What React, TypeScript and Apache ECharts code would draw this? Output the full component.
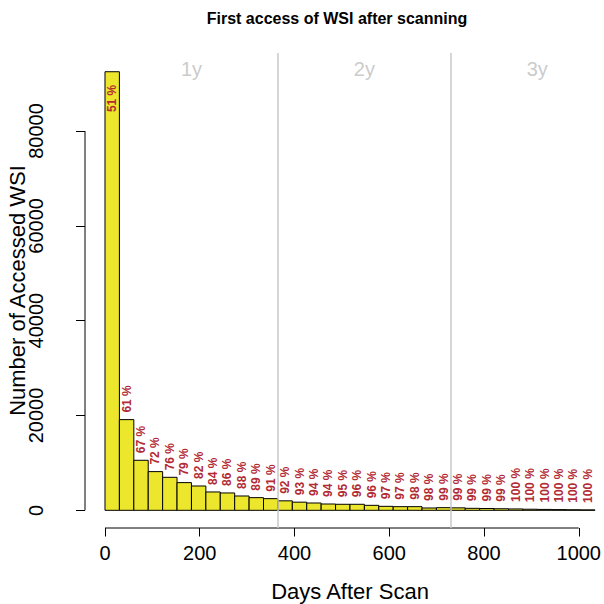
import React, { useEffect, useRef } from "react";
import * as echarts from "echarts";

// ---- data ----
const BIN_DAYS = 365 / 12;
const counts = [
  92500, 19130, 10550, 8160, 6960, 5840, 5130, 3870, 3660, 3020, 2670, 2460,
  2000, 1720, 1540, 1330, 1270, 1270, 1050, 840, 770, 770, 490, 560,
  520, 420, 380, 330, 290, 230, 190, 150, 120, 90,
];
const pctLabels = [
  "51 %", "61 %", "67 %", "72 %", "76 %", "79 %", "82 %", "84 %", "86 %", "88 %", "89 %", "91 %",
  "92 %", "93 %", "94 %", "94 %", "95 %", "96 %", "96 %", "97 %", "97 %", "98 %", "98 %", "99 %",
  "99 %", "99 %", "99 %", "99 %", "100 %", "100 %", "100 %", "100 %", "100 %", "100 %",
];
const xTicks = [0, 200, 400, 600, 800, 1000];
const yTicks = [0, 20000, 40000, 60000, 80000];
const yearLines = [365, 730];
const yearLabels = ["1y", "2y", "3y"];
const yearLabelX = [182.5, 547.5, 912.5];
const YEAR_LABEL_Y = 93100;

const X_MIN = -42.2;
const X_MAX = 1042.2;
const Y_MIN = -3730;
const Y_MAX = 96450;

const FONT = '"Liberation Sans", Arial, Helvetica, sans-serif';
const BAR_FILL = "#ece62c";
const LABEL_COLOR = "#b22a33";

export default function App() {
  const ref = useRef<HTMLDivElement>(null);

  useEffect(() => {
    if (!ref.current) return;
    const chart = echarts.init(ref.current, undefined, { renderer: "svg" });

    const bins = counts.map((c, i) => [i * BIN_DAYS, (i + 1) * BIN_DAYS, c]);

    const option: any = {
      animation: false,
      backgroundColor: "#ffffff",
      grid: { left: 85, top: 53, width: 514, height: 475, containLabel: false },
      xAxis: {
        type: "value",
        min: X_MIN,
        max: X_MAX,
        axisLine: { show: false, onZero: false },
        splitLine: { show: false },
        axisTick: {
          show: true,
          customValues: xTicks,
          length: 8.5,
          lineStyle: { color: "#000", width: 1 },
        },
        axisLabel: {
          show: true,
          customValues: xTicks,
          formatter: (v: number) => String(v),
          margin: 15,
          fontSize: 20,
          fontFamily: FONT,
          color: "#000",
        },
      },
      yAxis: {
        type: "value",
        min: Y_MIN,
        max: Y_MAX,
        axisLine: { show: false, onZero: false },
        splitLine: { show: false },
        axisTick: {
          show: true,
          customValues: yTicks,
          length: 9,
          lineStyle: { color: "#000", width: 1 },
        },
        axisLabel: {
          show: true,
          customValues: yTicks,
          formatter: (v: number) => String(v),
          rotate: 90,
          align: "center",
          verticalAlign: "bottom",
          margin: 39,
          fontSize: 20,
          fontFamily: FONT,
          color: "#000",
        },
      },
      graphic: [
        {
          type: "text",
          x: 337,
          y: 18,
          style: {
            text: "First access of WSI after scanning",
            fontSize: 16,
            fontWeight: "bold",
            fontFamily: FONT,
            fill: "#000",
            align: "center",
            verticalAlign: "middle",
          },
        },
        {
          type: "text",
          x: 350,
          y: 591,
          style: {
            text: "Days After Scan",
            fontSize: 22,
            fontFamily: FONT,
            fill: "#000",
            align: "center",
            verticalAlign: "middle",
          },
        },
        {
          type: "text",
          x: 17,
          y: 290.5,
          rotation: Math.PI / 2,
          style: {
            text: "Number of Accessed WSI",
            fontSize: 22,
            fontFamily: FONT,
            fill: "#000",
            align: "center",
            verticalAlign: "middle",
          },
        },
      ],
      series: [
        {
          type: "custom",
          z: 2,
          encode: { x: [0, 1], y: 2 },
          data: bins,
          renderItem: (params: any, api: any) => {
            const idx = params.dataIndex;
            const x0 = api.value(0);
            const x1 = api.value(1);
            const c = api.value(2);
            const p0 = api.coord([x0, c]);
            const p1 = api.coord([x1, 0]);
            const cx = (p0[0] + p1[0]) / 2;
            const first = idx === 0;
            return {
              type: "group",
              children: [
                {
                  type: "rect",
                  shape: {
                    x: p0[0],
                    y: p0[1],
                    width: p1[0] - p0[0],
                    height: p1[1] - p0[1],
                  },
                  style: { fill: BAR_FILL, stroke: "#000", lineWidth: 1 },
                },
                {
                  type: "text",
                  x: cx,
                  y: first ? p0[1] + 13 : p0[1] - 7,
                  rotation: Math.PI / 2,
                  style: {
                    text: pctLabels[idx],
                    fill: LABEL_COLOR,
                    fontSize: 12,
                    fontWeight: "bold",
                    fontFamily: FONT,
                    align: first ? "right" : "left",
                    verticalAlign: "middle",
                  },
                },
              ],
            };
          },
        },
        {
          type: "scatter",
          z: 3,
          symbolSize: 0,
          silent: true,
          data: yearLabelX.map((x, i) => [x, YEAR_LABEL_Y, yearLabels[i]]),
          label: {
            show: true,
            position: "inside",
            formatter: (p: any) => p.data[2],
            color: "#bdbdbd",
            fontSize: 20,
            fontFamily: FONT,
          },
          markLine: {
            silent: true,
            symbol: ["none", "none"],
            label: { show: false },
            lineStyle: { color: "#c8c8c8", width: 1.5, type: "solid" },
            data: yearLines.map((x) => ({ xAxis: x })),
          },
        },
        {
          type: "line",
          z: 4,
          silent: true,
          clip: false,
          symbol: "none",
          data: [
            [xTicks[0], Y_MIN],
            [xTicks[xTicks.length - 1], Y_MIN],
          ],
          lineStyle: { color: "#000", width: 1 },
        },
        {
          type: "line",
          z: 4,
          silent: true,
          clip: false,
          symbol: "none",
          data: [
            [X_MIN, yTicks[0]],
            [X_MIN, yTicks[yTicks.length - 1]],
          ],
          lineStyle: { color: "#000", width: 1 },
        },
      ],
    };

    chart.setOption(option);
    return () => chart.dispose();
  }, []);

  return (
    <div
      ref={ref}
      style={{ position: "fixed", left: 0, top: 0, width: 604, height: 604, background: "#fff" }}
    />
  );
}
